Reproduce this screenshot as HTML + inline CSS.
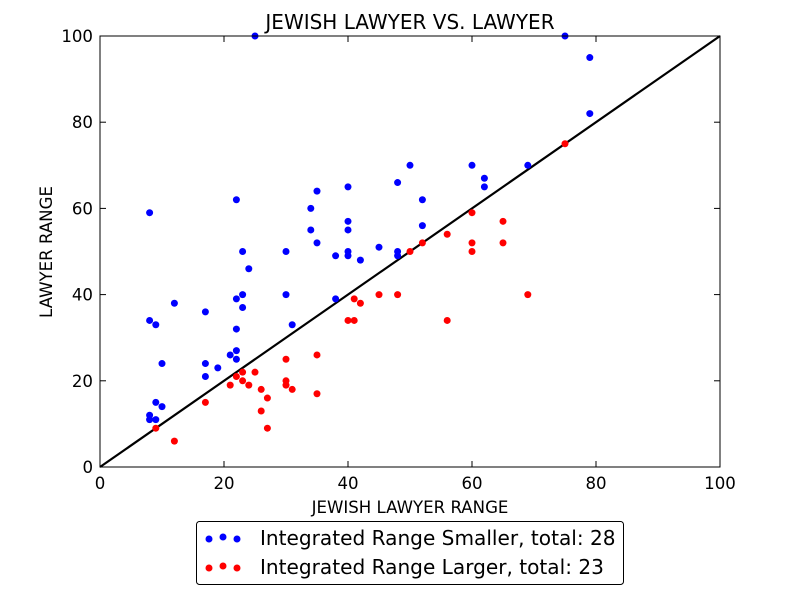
<!DOCTYPE html>
<html><head><meta charset="utf-8"><style>
body{margin:0;background:#fff;}
svg{display:block;font-family:"DejaVu Sans","Liberation Sans",sans-serif;}
</style></head><body>
<svg id="chart" width="800" height="600">
<rect width="800" height="600" fill="#fff"/>
<text x="410" y="29" text-anchor="middle" font-size="20">JEWISH LAWYER VS. LAWYER</text>
<g id="ticks"></g>
<g id="marks"></g>
<rect x="100" y="36" width="620" height="431" fill="none" stroke="#000" stroke-width="1"/>
<text x="410" y="513" text-anchor="middle" font-size="16.6">JEWISH LAWYER RANGE</text>
<text x="52" y="252" text-anchor="middle" font-size="16.6" transform="rotate(-90 52 252)">LAWYER RANGE</text>
<g>
<rect x="196.5" y="521.5" width="427" height="63" rx="3" fill="#fff" stroke="#000"/>
<g>
<circle cx="209" cy="539" r="3.5" fill="blue"/><circle cx="223" cy="537" r="3.5" fill="blue"/><circle cx="237" cy="539" r="3.5" fill="blue"/>
<text x="260" y="545" font-size="20.1">Integrated Range Smaller, total: 28</text></g>
<g>
<circle cx="209" cy="568" r="3.5" fill="red"/><circle cx="223" cy="566" r="3.5" fill="red"/><circle cx="237" cy="568" r="3.5" fill="red"/>
<text x="260" y="574" font-size="20.1">Integrated Range Larger, total: 23</text></g>
</g>
</svg>
<script>
const ticks=[0,20,40,60,80,100];
const blueX=[8,25,75,79,79,69,50,60,62,62,48,52,52,40,35,34,22,23,24,23,23,22,22,22,22,21,19,17,17,17,12,8,9,10,8,8,9,10,9,30,30,31,34,35,38,38,40,40,40,40,42,45,48,48];
const blueY=[59,100,100,95,82,70,70,70,67,65,66,62,56,65,64,60,62,50,46,40,37,39,32,27,25,26,23,36,24,21,38,34,33,24,12,11,15,14,11,50,40,33,55,52,49,39,57,55,50,49,48,51,50,49];
const redX=[9,12,17,21,22,23,23,24,25,26,26,27,27,30,30,30,31,35,35,40,41,41,42,45,48,50,52,56,56,60,60,60,65,65,69,75];
const redY=[9,6,15,19,21,22,20,19,22,18,13,16,9,25,20,19,18,26,17,34,34,39,38,40,40,50,52,54,34,59,52,50,57,52,40,75];
const NS="http://www.w3.org/2000/svg";
const sx=v=>100+v*6.2, sy=v=>467-v*4.31;
const tg=document.getElementById('ticks'), mg=document.getElementById('marks');
function mk(tag,attrs,parent){const e=document.createElementNS(NS,tag);for(const k in attrs)e.setAttribute(k,attrs[k]);parent.appendChild(e);return e;}
ticks.forEach(t=>{
  let l=mk('line',{x1:sx(t),x2:sx(t),y1:467,y2:461,stroke:'#000'},tg);
  
  
  l=mk('line',{x1:sx(t),x2:sx(t),y1:36,y2:42,stroke:'#000'},tg);
  
  
  l=mk('line',{x1:100,x2:106,y1:sy(t),y2:sy(t),stroke:'#000'},tg);
  
  
  l=mk('line',{x1:714,x2:720,y1:sy(t),y2:sy(t),stroke:'#000'},tg);
  
  
  let tx=mk('text',{x:sx(t),y:489,'text-anchor':'middle','font-size':16.6},tg);tx.textContent=t;
  
  
  tx=mk('text',{x:93,y:sy(t)+6,'text-anchor':'end','font-size':16.6},tg);tx.textContent=t;
  
  
});
const diag=mk('line',{x1:sx(0),y1:sy(0),x2:sx(100),y2:sy(100),stroke:'#000','stroke-width':2.2},mg);


blueX.forEach((x,i)=>{const c=mk('circle',{cx:sx(x),cy:sy(blueY[i]),r:3.5,fill:'blue'},mg);
  
  });
redX.forEach((x,i)=>{const c=mk('circle',{cx:sx(x),cy:sy(redY[i]),r:3.5,fill:'red'},mg);
  
  });
</script>
</body></html>
